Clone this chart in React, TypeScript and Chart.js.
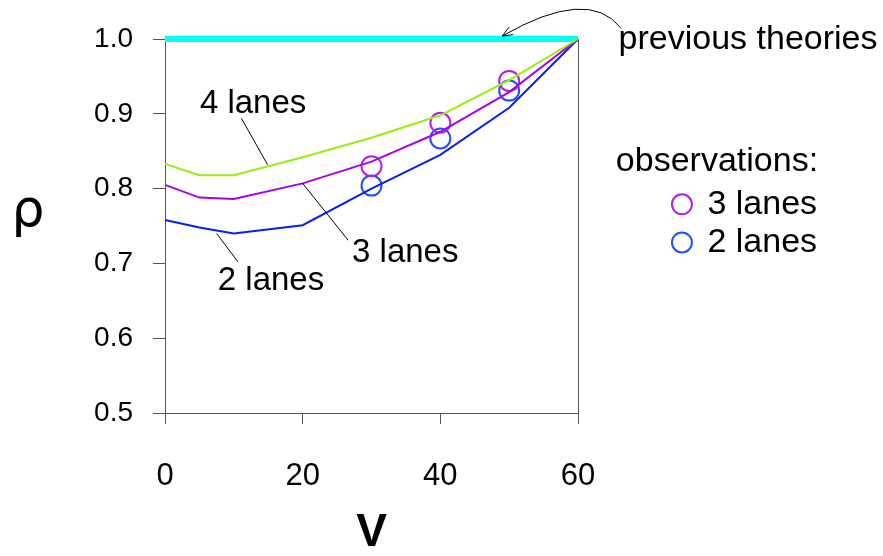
import React, { useEffect, useRef } from 'react';
import { Chart, registerables } from 'chart.js';

Chart.register(...registerables);

// ---- data ----
const speeds = [0, 5, 10, 20, 30, 40, 50, 60];
const lanes4 = [0.833, 0.818, 0.818, 0.842, 0.868, 0.898, 0.945, 1.0];
const lanes3 = [0.805, 0.788, 0.786, 0.807, 0.836, 0.876, 0.929, 1.0];
const lanes2 = [0.758, 0.748, 0.740, 0.751, 0.800, 0.845, 0.908, 1.0];
const obsSpeeds = [30, 40, 50];
const obs3 = [0.830, 0.888, 0.944];
const obs2 = [0.804, 0.867, 0.931];
const prevSpeeds = [0, 60];
const prevTheory = [1.0, 1.0];
const xTicks = [0, 20, 40, 60];
const yTicks = [0.5, 0.6, 0.7, 0.8, 0.9, 1.0];

const COL4 = '#99ee11';
const COL3 = '#aa00ee';
const COL2 = '#0a1ef0';
const OBS3 = '#b01ee8';
const OBS2 = '#1f50ff';
const CYAN = '#00ffff';
const AXIS = '#555555';
const FONT = '"Liberation Sans", Arial, sans-serif';
const RHO_FONT = '"DejaVu Sans", sans-serif';

const toXY = (xs: number[], ys: number[]) => xs.map((v, i) => ({ x: v, y: ys[i] }));

const annotationPlugin = {
  id: 'annotations',
  afterDraw(chart: any) {
    const { ctx } = chart;
    const xs = chart.scales.x;
    const ys = chart.scales.y;
    const px = (v: number) => xs.getPixelForValue(v);
    const py = (v: number) => ys.getPixelForValue(v);
    ctx.save();
    ctx.fillStyle = '#000';
    ctx.strokeStyle = '#000';
    ctx.textBaseline = 'middle';

    // curve labels with leader lines
    ctx.font = `33px ${FONT}`;
    ctx.textAlign = 'center';
    const labels = [
      { t: '4 lanes', x: 12.8, y: 0.913, l: [11.1, 0.894, 14.9, 0.832] },
      { t: '3 lanes', x: 34.9, y: 0.714, l: [20.0, 0.807, 26.6, 0.731] },
      { t: '2 lanes', x: 15.4, y: 0.677, l: [7.5, 0.740, 10.6, 0.702] },
    ];
    ctx.lineWidth = 1;
    for (const a of labels) {
      ctx.fillText(a.t, px(a.x), py(a.y));
      ctx.beginPath();
      ctx.moveTo(px(a.l[0]), py(a.l[1]));
      ctx.lineTo(px(a.l[2]), py(a.l[3]));
      ctx.stroke();
    }

    // previous theories + arrow
    ctx.font = `34px ${FONT}`;
    ctx.textAlign = 'left';
    ctx.fillText('previous theories', px(65.9), py(0.999));
    const sx = px(66.2), sy = py(1.015);
    const ex = px(49.0), ey = py(1.004);
    const cx = px(61.5), cy = py(1.07);
    ctx.beginPath();
    ctx.moveTo(sx, sy);
    ctx.quadraticCurveTo(cx, cy, ex, ey);
    ctx.stroke();
    const ang = Math.atan2(ey - cy, ex - cx);
    const ah = 11;
    ctx.beginPath();
    ctx.moveTo(ex - ah * Math.cos(ang - 0.4), ey - ah * Math.sin(ang - 0.4));
    ctx.lineTo(ex, ey);
    ctx.lineTo(ex - ah * Math.cos(ang + 0.4), ey - ah * Math.sin(ang + 0.4));
    ctx.stroke();

    // observation legend
    ctx.fillText('observations:', px(65.5), py(0.836));
    ctx.fillText('3 lanes', px(78.8), py(0.779));
    ctx.fillText('2 lanes', px(78.8), py(0.728));
    ctx.lineWidth = 2;
    ctx.strokeStyle = OBS3;
    ctx.beginPath();
    ctx.arc(px(75.1), py(0.779), 10, 0, Math.PI * 2);
    ctx.stroke();
    ctx.strokeStyle = OBS2;
    ctx.beginPath();
    ctx.arc(px(75.1), py(0.728), 10, 0, Math.PI * 2);
    ctx.stroke();

    // y axis title (unrotated rho)
    ctx.fillStyle = '#000';
    ctx.textAlign = 'center';
    ctx.textBaseline = 'alphabetic';
    ctx.font = `52px ${RHO_FONT}`;
    ctx.fillText('ρ', 28, py(0.75));
    ctx.restore();
  },
};

export default function App() {
  const ref = useRef<HTMLCanvasElement | null>(null);
  useEffect(() => {
    document.body.style.margin = '0';
    const canvas = ref.current;
    if (!canvas) return;
    const chart = new Chart(canvas, {
      type: 'line',
      data: {
        datasets: [
          { label: '4 lanes', data: toXY(speeds, lanes4), borderColor: COL4, borderWidth: 2, pointRadius: 0, tension: 0, clip: false } as any,
          { label: '3 lanes', data: toXY(speeds, lanes3), borderColor: COL3, borderWidth: 2, pointRadius: 0, tension: 0, clip: false } as any,
          { label: '2 lanes', data: toXY(speeds, lanes2), borderColor: COL2, borderWidth: 2, pointRadius: 0, tension: 0, clip: false } as any,
          { label: 'obs 3 lanes', data: toXY(obsSpeeds, obs3), showLine: false, pointRadius: 10, pointBorderWidth: 2, pointBorderColor: OBS3, pointBackgroundColor: 'rgba(0,0,0,0)', borderColor: OBS3, clip: false } as any,
          { label: 'obs 2 lanes', data: toXY(obsSpeeds, obs2), showLine: false, pointRadius: 10, pointBorderWidth: 2, pointBorderColor: OBS2, pointBackgroundColor: 'rgba(0,0,0,0)', borderColor: OBS2, clip: false } as any,
          { label: 'previous theories', data: toXY(prevSpeeds, prevTheory), borderColor: CYAN, borderWidth: 6, borderCapStyle: 'butt', pointRadius: 0, clip: false } as any,
        ],
      },
      options: {
        animation: false,
        responsive: false,
        maintainAspectRatio: false,
        layout: { padding: { left: 0, top: 39, right: 305, bottom: 0 } },
        plugins: { legend: { display: false }, tooltip: { enabled: false } },
        scales: {
          x: {
            type: 'linear',
            min: 0,
            max: 60,
            afterBuildTicks: (s: any) => { s.ticks = xTicks.map((v) => ({ value: v })); },
            afterFit: (s: any) => { s.height = 143; },
            ticks: { font: { family: FONT, size: 31 }, color: '#000', padding: 34, maxRotation: 0 },
            grid: {
              color: (c: any) => (c.tick && c.tick.value === 60 ? AXIS : 'rgba(0,0,0,0)'),
              tickColor: AXIS,
              tickLength: 11,
              lineWidth: 1,
            },
            border: { color: AXIS, width: 1 },
            title: { display: true, text: 'V', color: '#000', font: { family: FONT, size: 46, weight: 'bold', lineHeight: 1 }, padding: 0 },
          },
          y: {
            type: 'linear',
            min: 0.5,
            max: 1.0,
            afterBuildTicks: (s: any) => { s.ticks = yTicks.map((v) => ({ value: v })); },
            afterFit: (s: any) => { s.width = 165; },
            ticks: { font: { family: FONT, size: 28 }, color: '#000', padding: 20, callback: (v: any) => Number(v).toFixed(1) },
            grid: { drawOnChartArea: false, tickColor: AXIS, tickLength: 12, lineWidth: 1 },
            border: { color: AXIS, width: 1 },
          },
        },
      } as any,
      plugins: [annotationPlugin],
    });
    return () => chart.destroy();
  }, []);
  return (
    <div style={{ width: 883, height: 556 }}>
      <canvas ref={ref} width={883} height={556} style={{ display: 'block' }} />
    </div>
  );
}
